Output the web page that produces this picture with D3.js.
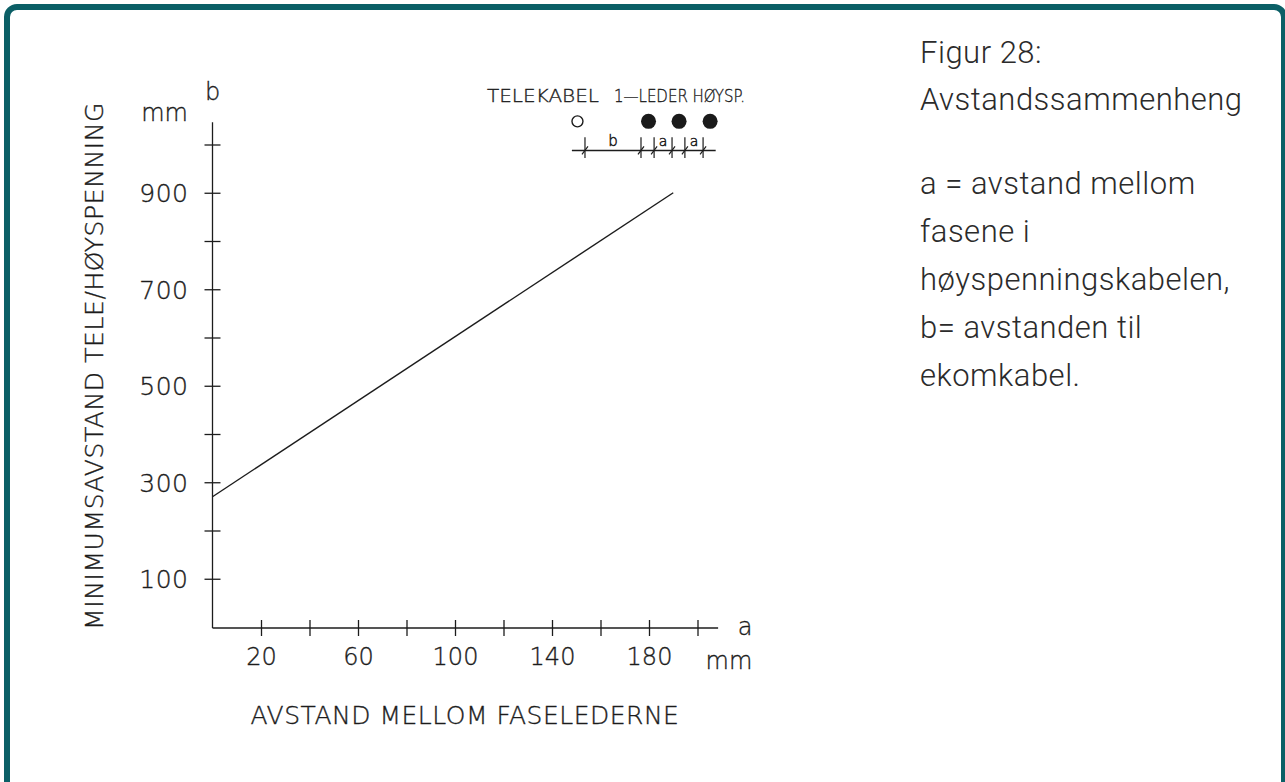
<!DOCTYPE html>
<html>
<head>
<meta charset="utf-8">
<script src="https://cdn.jsdelivr.net/npm/d3@7"></script>
<style>
  html, body { margin: 0; padding: 0; background: #ffffff; }
  svg { display: block; }
</style>
</head>
<body>
<svg id="chart" width="1285" height="782"></svg>
<script>
// ---------------- data ----------------
const lineA = [0, 190];            // a, mm (distance between phase conductors)
const lineB = [270, 900];          // b, mm (minimum distance tele / high voltage)
const yTickValues = [100, 200, 300, 400, 500, 600, 700, 800, 900, 1000];
const yTickLabels = [100, 300, 500, 700, 900];
const xTickValues = [20, 40, 60, 80, 100, 120, 140, 160, 180, 200];
const xTickLabels = [20, 60, 100, 140, 180];
const xTitle = "AVSTAND MELLOM FASELEDERNE";
const yTitle = "MINIMUMSAVSTAND TELE/HØYSPENNING";
const legendTele = "TELEKABEL";
const legendHv = "1—LEDER HØYSP.";
// schematic (in chart units): tele cable + three HV conductors
const teleCable = [150.5];
const hvConductors = [179.8, 192.4, 205.2];
const dimTicks = [153.6, 176.7, 182.1, 189.5, 194.8, 202.3];
const dimLabels = [{t: "b", a: 165.2, s: 15}, {t: "a", a: 185.8, s: 14}, {t: "a", a: 198.6, s: 14}];
const captionLines = ["Figur 28:", "Avstandssammenheng", "", "a = avstand mellom", "fasene i", "høyspenningskabelen,", "b= avstanden til", "ekomkabel."];

// ---------------- setup ----------------
const svg = d3.select("#chart");
const ink = "#1c1c1c";
const chartFont = "'DejaVu Sans', sans-serif";

// frame
svg.append("rect")
  .attr("x", 7).attr("y", 7).attr("width", 1277).attr("height", 800)
  .attr("rx", 10).attr("ry", 10)
  .attr("fill", "none").attr("stroke", "#0b5f66").attr("stroke-width", 6);

const x = d3.scaleLinear().domain([0, 200]).range([212.5, 697.5]);
const y = d3.scaleLinear().domain([0, 1000]).range([627, 144.5]);

const g = svg.append("g");

const styleText = sel => sel.attr("font-family", chartFont).attr("font-weight", 200)
  .attr("fill", ink).attr("stroke", ink).attr("stroke-width", 0.35);

// axis lines
g.append("line").attr("x1", x(0)).attr("x2", x(0))
  .attr("y1", y(1046)).attr("y2", y(0) + 1)
  .attr("stroke", ink).attr("stroke-width", 1.3);
g.append("line").attr("x1", x(0)).attr("x2", x(208.5))
  .attr("y1", y(0) + 1).attr("y2", y(0) + 1)
  .attr("stroke", ink).attr("stroke-width", 1.3);

// y axis ticks via d3.axisLeft
const yAxis = d3.axisLeft(y).tickValues(yTickValues).tickSize(0).tickPadding(24)
  .tickFormat(d => yTickLabels.includes(d) ? d : "");
const gy = g.append("g").attr("transform", `translate(${x(0)},0)`).call(yAxis);
gy.select(".domain").remove();
gy.selectAll(".tick line").attr("x1", -8).attr("x2", 8).attr("stroke", ink).attr("stroke-width", 1.3);
gy.selectAll(".tick text").call(styleText).attr("font-size", 25).attr("letter-spacing", 0.5).attr("dy", "0.36em");

// x axis ticks via d3.axisBottom
const xAxis = d3.axisBottom(x).tickValues(xTickValues).tickSize(0).tickPadding(20)
  .tickFormat(d => xTickLabels.includes(d) ? d : "");
const gx = g.append("g").attr("transform", `translate(0,${y(0) + 1})`).call(xAxis);
gx.select(".domain").remove();
gx.selectAll(".tick line").attr("y1", -8).attr("y2", 8).attr("stroke", ink).attr("stroke-width", 1.3);
gx.selectAll(".tick text").call(styleText).attr("font-size", 24).attr("dy", "0.71em");

// unit / variable labels
const txt = (sel, t, xx, yy, size, anchor) => sel.append("text")
  .attr("x", xx).attr("y", yy).call(styleText)
  .attr("font-size", size).attr("text-anchor", anchor || "start").text(t);

txt(g, "b", x(0), 100, 24, "middle");
txt(g, "mm", 188, 121, 24, "end");
txt(g, "a", 745, 635, 24, "middle");
txt(g, "mm", 729, 669, 24, "middle");

// titles
txt(g, xTitle, 465, 724, 25, "middle").attr("letter-spacing", 0.5);
txt(g, yTitle, 0, 0, 25, "middle").attr("letter-spacing", 0.6)
  .attr("transform", "translate(103,366) rotate(-90)");

// data line
g.append("path")
  .datum(lineA.map((a, i) => [a, lineB[i]]))
  .attr("d", d3.line().x(d => x(d[0])).y(d => y(d[1])))
  .attr("fill", "none").attr("stroke", ink).attr("stroke-width", 1.4);

// schematic legend
txt(g, legendTele, 487, 102, 18).attr("textLength", 112).attr("lengthAdjust", "spacingAndGlyphs");
txt(g, legendHv, 614, 102, 17).attr("textLength", 131).attr("lengthAdjust", "spacingAndGlyphs");

const cy = y(1048);
g.selectAll("circle.tele").data(teleCable).join("circle").attr("class", "tele")
  .attr("cx", d => x(d)).attr("cy", cy).attr("r", 5.5)
  .attr("fill", "none").attr("stroke", ink).attr("stroke-width", 1.4);
g.selectAll("circle.hv").data(hvConductors).join("circle").attr("class", "hv")
  .attr("cx", d => x(d)).attr("cy", cy).attr("r", 7.5)
  .attr("fill", "#1a1a1a");

const dimY = y(987.6);
g.append("line").attr("x1", x(148.2)).attr("x2", x(207.5))
  .attr("y1", dimY).attr("y2", dimY).attr("stroke", ink).attr("stroke-width", 1.3);
g.selectAll("line.dimtick").data(dimTicks).join("line").attr("class", "dimtick")
  .attr("x1", d => x(d)).attr("x2", d => x(d))
  .attr("y1", y(1015)).attr("y2", y(972)).attr("stroke", ink).attr("stroke-width", 1.2);
g.selectAll("line.slash").data(dimTicks).join("line").attr("class", "slash")
  .attr("x1", d => x(d) - 3).attr("x2", d => x(d) + 3)
  .attr("y1", dimY + 4).attr("y2", dimY - 4).attr("stroke", ink).attr("stroke-width", 1.2);
g.selectAll("text.dimlab").data(dimLabels).join("text").attr("class", "dimlab")
  .attr("x", d => x(d.a)).attr("y", dimY - 4).attr("text-anchor", "middle")
  .call(styleText).attr("font-size", d => d.s).attr("stroke-width", 0.5)
  .text(d => d.t);

// caption on the right
svg.append("g").selectAll("text").data(captionLines).join("text")
  .attr("x", 920)
  .attr("y", (d, i) => i < 2 ? 63 + i * 47 : 194 + (i - 3) * 48)
  .attr("font-family", "Roboto, sans-serif").attr("font-weight", 300)
  .attr("font-size", 31).attr("letter-spacing", 0.5).attr("fill", "#2b2b2b")
  .text(d => d);
</script>
</body>
</html>
